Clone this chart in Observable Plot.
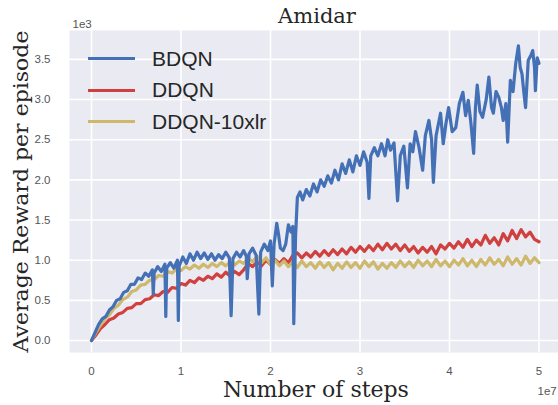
<!DOCTYPE html>
<html><head><meta charset="utf-8">
<script src="https://cdn.jsdelivr.net/npm/d3@7"></script>
<script src="https://cdn.jsdelivr.net/npm/@observablehq/plot@0.6"></script>
<style>
body{margin:0;background:#fff;}
#wrap{position:relative;width:558px;height:405px;overflow:hidden;}
#legend{position:absolute;left:88px;top:43px;font-family:"Liberation Sans",Arial,sans-serif;font-size:21px;color:#262626;}
#legend .row{display:flex;align-items:center;height:31.5px;}
#legend .sw{width:47px;height:3px;margin-right:17px;}
</style></head>
<body><div id="wrap"></div>
<script>
const seriesNames = ["BDQN", "DDQN", "DDQN-10xlr"];
const seriesColors = ["#4470B6", "#D0403F", "#CDB86C"];
const xTicks = [0, 1, 2, 3, 4, 5];
const yTicks = [0, 0.5, 1, 1.5, 2, 2.5, 3, 3.5];

const steps = [0,0.05,0.1,0.15,0.2,0.25,0.3,0.35,0.4,0.45,0.5,0.55,0.6,0.65,0.7,0.75,0.8,0.85,0.9,0.95,
1,1.05,1.1,1.15,1.2,1.25,1.3,1.35,1.4,1.45,1.5,1.55,1.6,1.65,1.7,1.75,1.8,1.85,1.9,1.95,
2,2.05,2.1,2.15,2.2,2.25,2.3,2.35,2.4,2.45,2.5,2.55,2.6,2.65,2.7,2.75,2.8,2.85,2.9,2.95,
3,3.05,3.1,3.15,3.2,3.25,3.3,3.35,3.4,3.45,3.5,3.55,3.6,3.65,3.7,3.75,3.8,3.85,3.9,3.95,
4,4.05,4.1,4.15,4.2,4.25,4.3,4.35,4.4,4.45,4.5,4.55,4.6,4.65,4.7,4.75,4.8,4.85,4.9,4.95,5];

const ddqn = [0,0.07,0.15,0.2,0.26,0.28,0.33,0.35,0.4,0.41,0.46,0.46,0.51,0.52,0.57,0.56,0.61,0.6,0.66,0.65,
0.71,0.69,0.75,0.72,0.78,0.75,0.8,0.77,0.83,0.79,0.85,0.8,0.86,0.82,0.88,0.96,0.92,0.98,0.93,1.0,
0.95,1.01,0.96,1.02,0.97,1.06,1.09,1.03,1.09,1.04,1.11,1.05,1.12,1.06,1.13,1.07,1.14,1.08,1.16,1.1,
1.17,1.11,1.18,1.12,1.2,1.13,1.21,1.14,1.2,1.12,1.19,1.11,1.17,1.09,1.16,1.1,1.17,1.08,1.19,1.14,
1.21,1.15,1.23,1.16,1.26,1.17,1.25,1.19,1.31,1.21,1.28,1.19,1.33,1.24,1.37,1.27,1.38,1.29,1.35,1.26,1.23];

const ddqn10xlr = [0,0.1,0.19,0.27,0.32,0.4,0.44,0.51,0.54,0.61,0.63,0.69,0.7,0.75,0.76,0.81,0.8,0.86,0.84,0.89,
0.87,0.92,0.89,0.94,0.9,0.95,0.91,0.96,0.92,0.97,0.93,0.98,0.94,0.99,0.96,1.03,0.98,1.05,0.97,1.03,
0.95,1.0,0.93,0.99,0.92,0.98,0.91,0.99,0.92,0.97,0.9,0.98,0.91,0.97,0.88,0.96,0.9,0.98,0.91,0.97,
0.9,0.99,0.92,0.98,0.89,0.96,0.9,0.97,0.91,0.99,0.92,0.98,0.91,1.0,0.93,0.99,0.92,1.01,0.93,0.99,
0.92,1.0,0.94,1.02,0.93,1.0,0.92,1.01,0.94,1.03,0.95,1.01,0.93,1.04,0.95,1.02,0.94,1.05,0.96,1.03,0.97];

const bdqnSteps = [0,0.04,0.08,0.12,0.16,0.2,0.24,0.28,0.32,0.36,0.4,0.44,0.48,0.52,0.56,0.6,0.64,0.68,0.69,0.7,
0.74,0.78,0.82,0.83,0.84,0.88,0.92,0.96,0.97,0.98,1.02,1.06,1.1,1.14,1.18,1.22,1.26,1.3,1.34,1.38,
1.42,1.46,1.5,1.54,1.56,1.58,1.62,1.66,1.7,1.73,1.74,1.76,1.8,1.84,1.87,1.89,1.93,1.97,2.0,2.02,
2.04,2.07,2.09,2.11,2.14,2.17,2.2,2.23,2.25,2.26,2.28,2.3,2.33,2.36,2.4,2.44,2.48,2.52,2.56,2.6,
2.64,2.68,2.72,2.76,2.8,2.84,2.88,2.92,2.96,3.0,3.04,3.08,3.1,3.12,3.16,3.2,3.24,3.28,3.31,3.34,
3.38,3.42,3.45,3.49,3.53,3.56,3.59,3.62,3.66,3.7,3.73,3.77,3.8,3.82,3.85,3.9,3.93,3.96,3.99,4.03,
4.07,4.11,4.15,4.18,4.21,4.24,4.27,4.29,4.31,4.34,4.37,4.41,4.44,4.47,4.49,4.52,4.55,4.58,4.6,4.63,
4.65,4.68,4.71,4.74,4.77,4.79,4.81,4.83,4.85,4.88,4.91,4.93,4.95,4.96,4.98,5];

const bdqn = [0,0.1,0.2,0.27,0.3,0.38,0.42,0.5,0.52,0.6,0.62,0.7,0.7,0.78,0.76,0.84,0.8,0.88,0.58,0.84,
0.92,0.86,0.95,0.3,0.9,0.97,0.9,1.0,0.25,0.93,1.04,0.96,1.08,1.0,1.1,1.02,1.09,1.01,1.08,1.0,
1.07,1.02,1.1,1.03,0.31,1.02,1.1,1.04,1.12,1.05,0.77,1.08,1.15,1.06,0.33,1.1,1.2,1.12,1.24,0.68,
1.2,1.46,1.32,1.15,1.12,1.2,1.44,1.35,1.42,0.21,1.3,1.78,1.85,1.75,1.88,1.8,1.95,1.85,2.0,1.92,
2.05,1.96,2.12,2.0,2.2,2.08,2.25,2.1,2.3,2.18,2.35,2.22,1.77,2.3,2.4,2.3,2.45,2.3,2.5,2.37,
2.46,1.74,2.3,2.42,1.9,2.45,2.35,2.6,2.4,2.12,2.55,2.74,2.5,1.97,2.55,2.83,2.45,2.7,2.9,2.6,
2.65,2.95,3.09,2.8,2.99,2.7,2.33,2.9,3.18,2.85,2.78,3.0,3.28,2.9,2.83,3.1,3.03,2.9,2.74,2.95,
2.47,3.24,3.1,3.45,3.67,3.4,3.32,3.1,2.9,3.49,3.55,3.61,3.4,3.11,3.52,3.45];

const rows = (name, xs, ys) => xs.map((s, i) => ({series: name, step: s, reward: ys[i]}));
const redRows = rows("DDQN", steps, ddqn);
const yellowRows = rows("DDQN-10xlr", steps, ddqn10xlr);
const blueRows = rows("BDQN", bdqnSteps, bdqn);

const serif = "'DejaVu Serif', serif";
const yLabel = "Average Reward per episode";
const lineOpts = {x: "step", y: "reward", stroke: "series", strokeWidth: 3.2, strokeLinejoin: "round", curve: "linear"};

const chart = Plot.plot({
  width: 558, height: 405,
  marginLeft: 69, marginRight: 0, marginTop: 30, marginBottom: 53,
  style: {background: "transparent", fontFamily: "'Liberation Sans', Arial, sans-serif", fontSize: "11.5px", color: "#555"},
  x: {domain: [-0.246, 5.218], ticks: xTicks, tickFormat: d => String(d), label: null, tickSize: 0, tickPadding: 14},
  y: {domain: [-0.149, 3.86], ticks: yTicks, tickFormat: d => d.toFixed(1), label: null, tickSize: 0, tickPadding: 19},
  color: {domain: seriesNames, range: seriesColors},
  marks: [
    Plot.frame({fill: "#EAEAF2", stroke: null}),
    Plot.gridX(xTicks, {stroke: "#fff", strokeOpacity: 1, strokeWidth: 1.6}),
    Plot.gridY(yTicks, {stroke: "#fff", strokeOpacity: 1, strokeWidth: 1.6}),
    Plot.line(redRows, lineOpts),
    Plot.line(yellowRows, lineOpts),
    Plot.line(blueRows, lineOpts),
    Plot.text(["Amidar"], {text: d => d, frameAnchor: "top", dx: 3, dy: -8, lineAnchor: "bottom", fontFamily: serif, fontSize: 21, fill: "#262626"}),
    Plot.text(["Number of steps"], {text: d => d, frameAnchor: "bottom", dx: 2, dy: 44, lineAnchor: "bottom", fontFamily: serif, fontSize: 22, fill: "#262626"}),
    Plot.text([yLabel], {text: d => d, frameAnchor: "left", dx: -42, rotate: -90, textAnchor: "middle", lineAnchor: "bottom", fontFamily: serif, fontSize: 21, fill: "#262626"}),
    Plot.text(["1e3"], {text: d => d, frameAnchor: "top-left", dx: 3, dy: -3, textAnchor: "start", lineAnchor: "bottom", fontSize: 11.5, fill: "#555"}),
    Plot.text(["1e7"], {text: d => d, frameAnchor: "bottom-right", dx: -21, dy: 42, textAnchor: "start", lineAnchor: "bottom", fontSize: 11.5, fill: "#555"})
  ]
});
chart.querySelectorAll("text").forEach(t => {
  if (t.textContent === yLabel) {
    t.setAttribute("textLength", 322);
    t.setAttribute("lengthAdjust", "spacingAndGlyphs");
  }
});
const wrap = document.getElementById("wrap");
wrap.appendChild(chart);

const legend = document.createElement("div");
legend.id = "legend";
seriesNames.forEach((n, i) => {
  const r = document.createElement("div");
  r.className = "row";
  const sw = document.createElement("span");
  sw.className = "sw";
  sw.style.background = seriesColors[i];
  const t = document.createElement("span");
  t.textContent = n;
  r.appendChild(sw); r.appendChild(t);
  legend.appendChild(r);
});
wrap.appendChild(legend);
</script>
</body></html>
